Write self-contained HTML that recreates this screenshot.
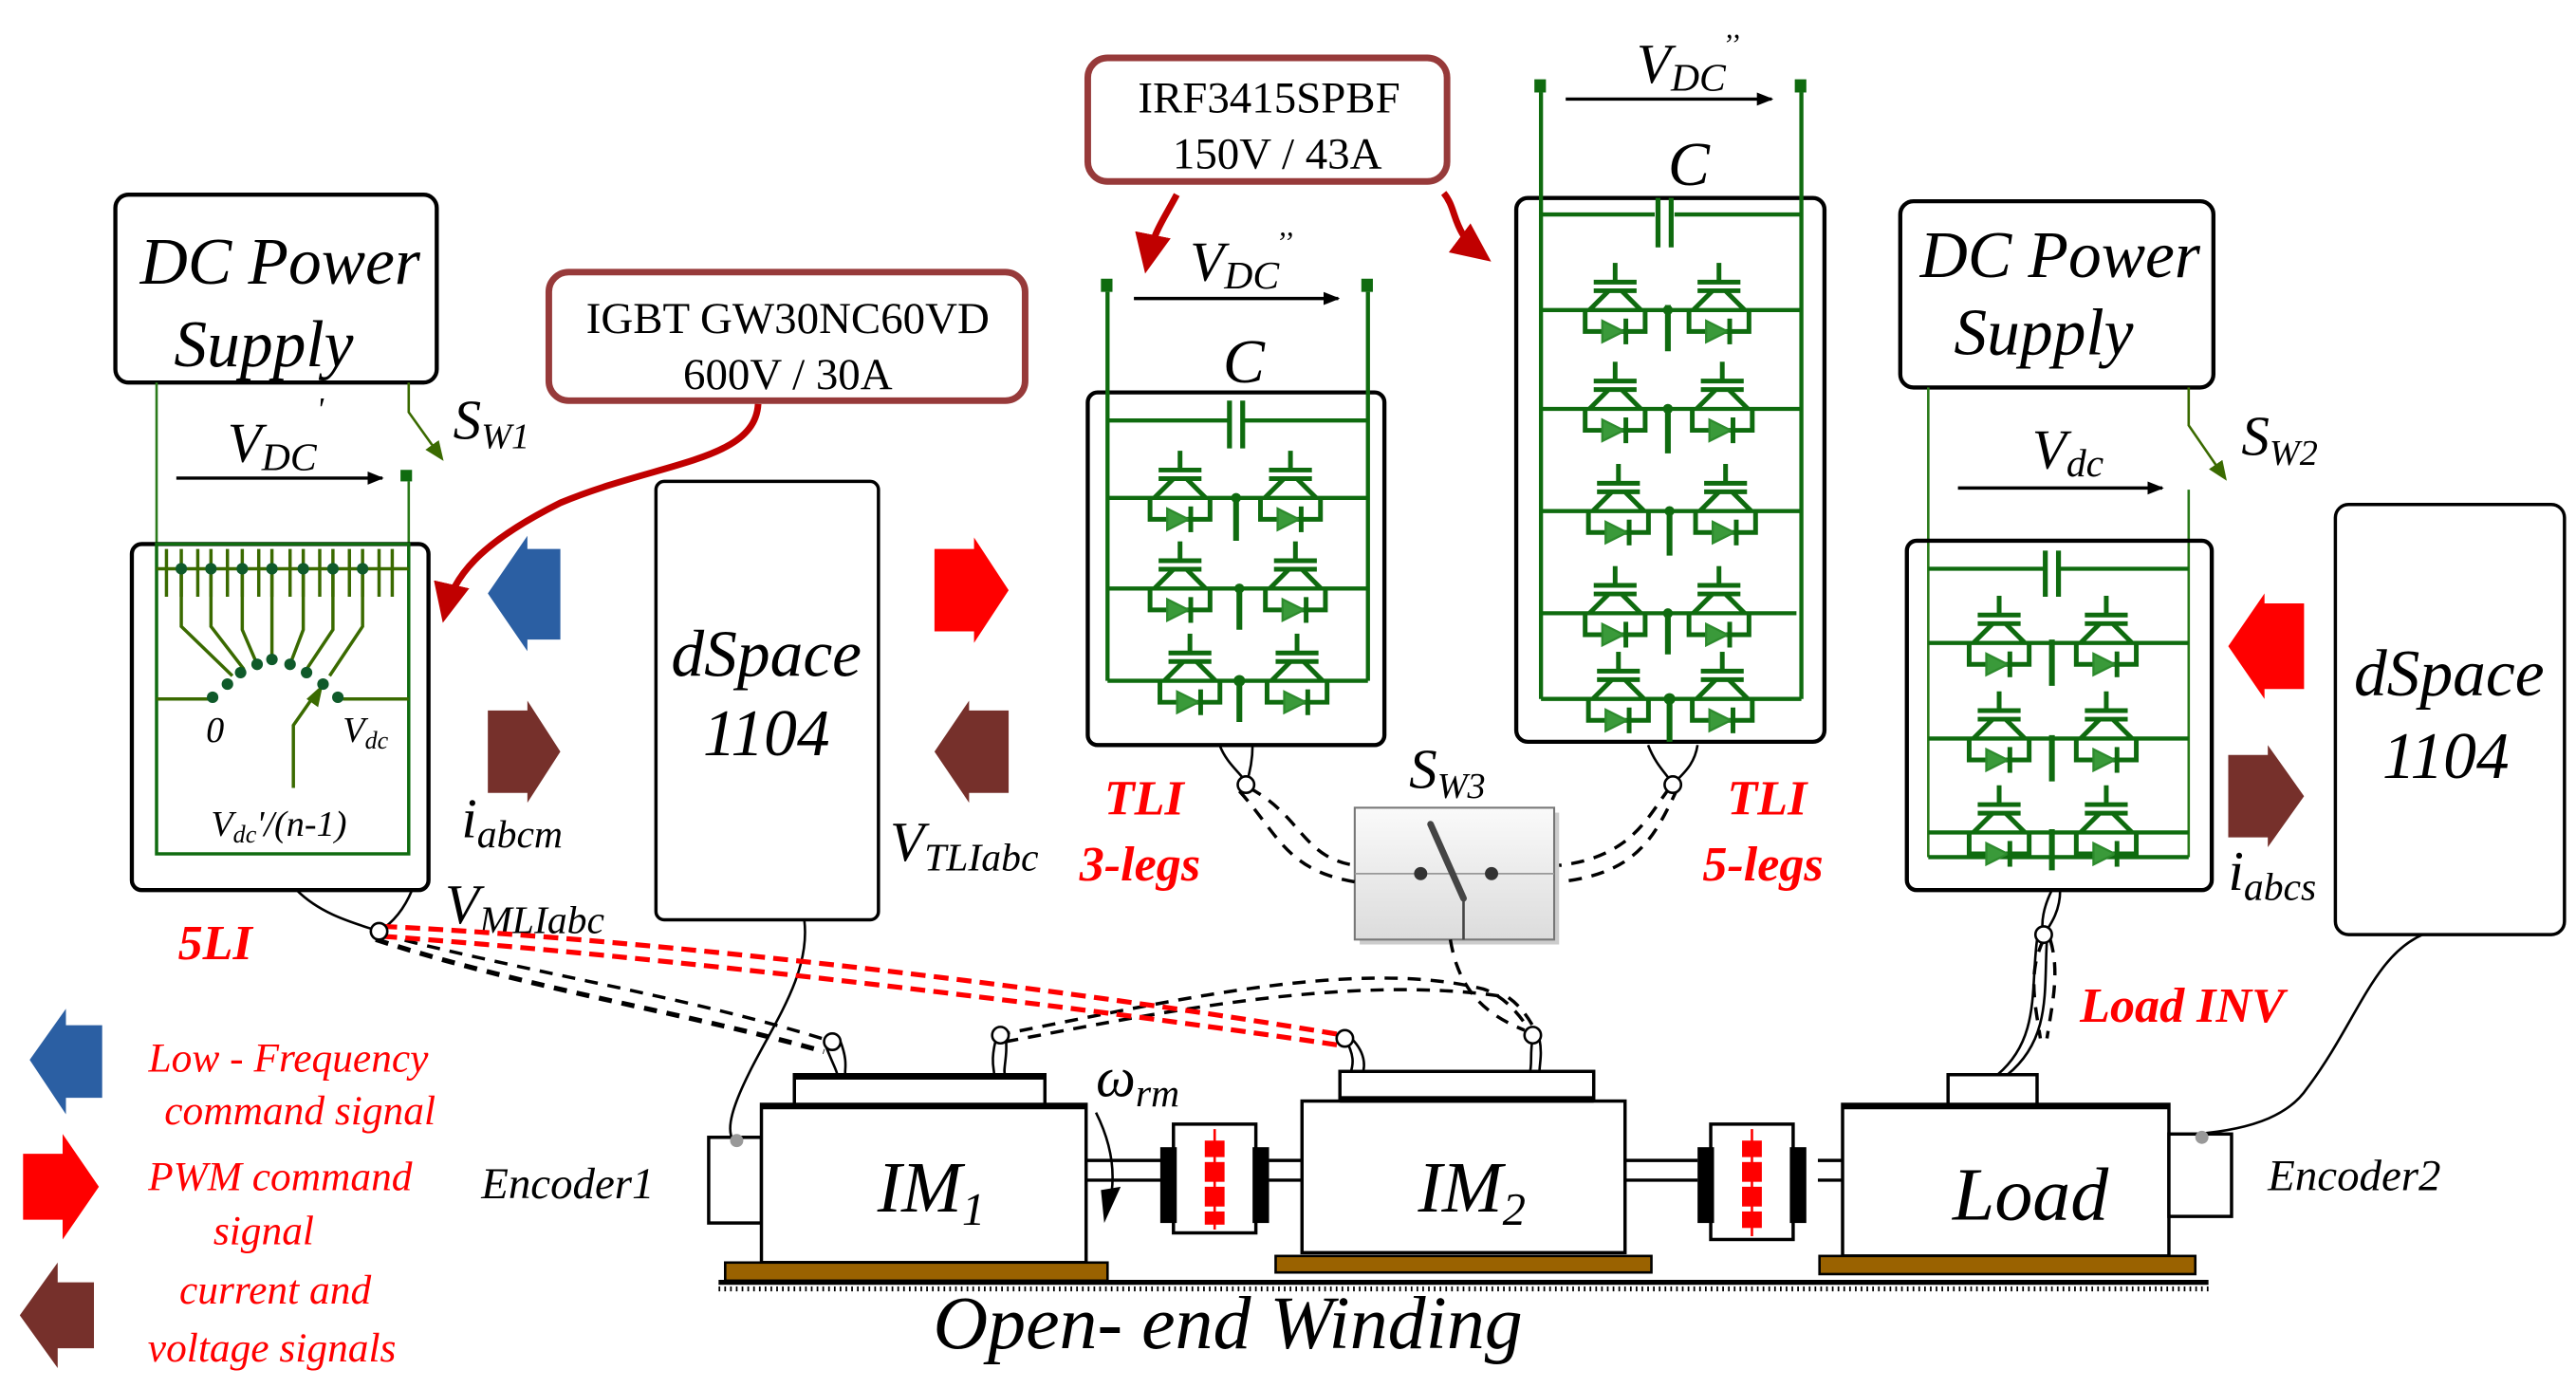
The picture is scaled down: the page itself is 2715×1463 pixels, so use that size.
<!DOCTYPE html>
<html><head><meta charset="utf-8">
<style>
html,body{margin:0;padding:0;background:#fff;}
svg{display:block;}
text{font-family:"Liberation Serif",serif;}
.it{font-style:italic;}
.red{fill:#ff0000;font-weight:bold;font-style:italic;}
.leg{fill:#ff0000;font-style:italic;font-size:25px;}
</style></head>
<body>
<svg width="2715" height="1463" viewBox="0 0 1563 842" xmlns="http://www.w3.org/2000/svg">
<defs>
<g id="cell" stroke="#0f6b0f" stroke-width="2.2" fill="none" transform="scale(1.3)">
  <line x1="0" y1="-22" x2="0" y2="-13"/>
  <line x1="-10" y1="-13" x2="10" y2="-13"/>
  <line x1="-10" y1="-9" x2="10" y2="-9"/>
  <line x1="-3" y1="-9" x2="-12" y2="0"/>
  <line x1="3" y1="-9" x2="12" y2="0"/>
  <polyline points="-14,0 -14,10 14,10 14,0"/>
  <polygon points="-6,5 -6,15 4,10" fill="#3a9a3a" stroke="#2c8a2c" stroke-width="1"/>
  <line x1="5" y1="4" x2="5" y2="16"/>
</g>
<marker id="ah" markerWidth="10" markerHeight="8" refX="9" refY="4" orient="auto" markerUnits="userSpaceOnUse"><polygon points="0,0 10,4 0,8" fill="#000"/></marker>
<marker id="ahg" markerWidth="12" markerHeight="10" refX="10" refY="5" orient="auto" markerUnits="userSpaceOnUse"><polygon points="0,0 12,5 0,10" fill="#3a6a00"/></marker>
<marker id="ahr" markerWidth="24" markerHeight="22" refX="18" refY="11" orient="auto" markerUnits="userSpaceOnUse"><polygon points="0,0 24,11 0,22" fill="#c00000"/></marker>
</defs>

<!-- ===== Left DC power supply ===== -->
<rect x="70" y="118" width="195" height="114" rx="8" fill="#fff" stroke="#000" stroke-width="2.5"/>
<text x="170" y="172" font-size="40" class="it" text-anchor="middle">DC Power</text>
<text x="160" y="222" font-size="40" class="it" text-anchor="middle">Supply</text>
<line x1="95" y1="232" x2="95" y2="518" stroke="#2a7a1a" stroke-width="1.5"/>
<polyline points="248,232 248,250 268,278" fill="none" stroke="#3a6a00" stroke-width="1.5" marker-end="url(#ahg)"/>
<rect x="243" y="285" width="7" height="7" fill="#0f6b0f"/>
<line x1="248" y1="292" x2="248" y2="518" stroke="#2a7a1a" stroke-width="1.5"/>
<line x1="107" y1="290" x2="232" y2="290" stroke="#000" stroke-width="2" marker-end="url(#ah)"/>
<text x="138" y="280" font-size="34" class="it">V<tspan font-size="24" dy="5">DC</tspan><tspan font-size="20" dy="-30">'</tspan></text>
<text x="275" y="266" font-size="34" class="it">S<tspan font-size="22" dy="6">W1</tspan></text>

<!-- 5LI box -->
<rect x="80" y="330" width="180" height="210" rx="6" fill="none" stroke="#000" stroke-width="2.5"/>
<rect x="95" y="330" width="153" height="188" fill="none" stroke="#0f6b0f" stroke-width="2"/>
<line x1="95" y1="345" x2="248" y2="345" stroke="#3a6a00" stroke-width="2"/>
<g stroke="#3a6a00" stroke-width="2">
<line x1="101" y1="333" x2="101" y2="362"/><line x1="110" y1="333" x2="110" y2="362"/>
<line x1="120" y1="333" x2="120" y2="362"/><line x1="128" y1="333" x2="128" y2="362"/>
<line x1="138" y1="333" x2="138" y2="362"/><line x1="147" y1="333" x2="147" y2="362"/>
<line x1="157" y1="333" x2="157" y2="362"/><line x1="165" y1="333" x2="165" y2="362"/>
<line x1="176" y1="333" x2="176" y2="362"/><line x1="184" y1="333" x2="184" y2="362"/>
<line x1="194" y1="333" x2="194" y2="362"/><line x1="202" y1="333" x2="202" y2="362"/>
<line x1="212" y1="333" x2="212" y2="362"/><line x1="220" y1="333" x2="220" y2="362"/>
<line x1="230" y1="333" x2="230" y2="362"/><line x1="238" y1="333" x2="238" y2="362"/>
</g>
<g stroke="#3a6a00" stroke-width="2" fill="none">
<polyline points="110,345 110,380 141,410"/>
<polyline points="128,345 128,380 148,406"/>
<polyline points="147,345 147,382 156,403"/>
<polyline points="165,345 165,402"/>
<polyline points="184,345 184,382 176,403"/>
<polyline points="202,345 202,382 186,406"/>
<polyline points="220,345 220,380 200,410"/>
<line x1="95" y1="424" x2="128" y2="424"/><line x1="208" y1="424" x2="248" y2="424"/>
<polyline points="178,478 178,440 192,420"/>
</g>
<polygon points="196,415 186,424 193,429" fill="#3a6a00"/>
<g fill="#0f5a2a">
<circle cx="129" cy="423" r="3.5"/><circle cx="138" cy="415" r="3.5"/><circle cx="146" cy="408" r="3.5"/>
<circle cx="156" cy="403" r="3.5"/><circle cx="165" cy="400" r="3.5"/><circle cx="176" cy="403" r="3.5"/>
<circle cx="186" cy="408" r="3.5"/><circle cx="196" cy="415" r="3.5"/><circle cx="205" cy="423" r="3.5"/>
<circle cx="110" cy="345" r="3.5"/><circle cx="128" cy="345" r="3.5"/><circle cx="147" cy="345" r="3.5"/>
<circle cx="165" cy="345" r="3.5"/><circle cx="184" cy="345" r="3.5"/><circle cx="202" cy="345" r="3.5"/><circle cx="220" cy="345" r="3.5"/>
</g>
<text x="125" y="450" font-size="22" class="it">0</text>
<text x="208" y="450" font-size="22" class="it">V<tspan font-size="15" dy="4">dc</tspan></text>
<text x="128" y="507" font-size="22" class="it">V<tspan font-size="15" dy="4">dc</tspan><tspan dy="-4">'/(n-1)</tspan></text>

<!-- IGBT label box -->
<rect x="333" y="165" width="289" height="78" rx="12" fill="#fff" stroke="#973a3a" stroke-width="4"/>
<text x="478" y="202" font-size="27" text-anchor="middle">IGBT GW30NC60VD</text>
<text x="478" y="236" font-size="27" text-anchor="middle">600V / 30A</text>
<path d="M460,245 C458,280 400,280 340,305 C290,330 275,350 270,372" fill="none" stroke="#c00000" stroke-width="4" marker-end="url(#ahr)"/>

<polygon points="340,333 340,388 320,388 320,395 296,360 320,325 320,333" fill="#2b5fa3"/>
<polygon points="296,431 320,431 320,425 340,456 320,487 320,481 296,481" fill="#76302b"/>
<text x="280" y="508" font-size="34" class="it">i<tspan font-size="24" dy="6">abcm</tspan></text>

<!-- Left dSpace -->
<rect x="398" y="292" width="135" height="266" rx="5" fill="#fff" stroke="#000" stroke-width="2"/>
<text x="465" y="410" font-size="40" class="it" text-anchor="middle">dSpace</text>
<text x="465" y="458" font-size="40" class="it" text-anchor="middle">1104</text>
<text x="270" y="560" font-size="34" class="it">V<tspan font-size="24" dy="6">MLIabc</tspan></text>
<text x="108" y="582" font-size="30" class="red">5LI</text>

<polygon points="567,333 591,333 591,326 612,358 591,390 591,383 567,383" fill="#ff0000"/>
<polygon points="612,431 588,431 588,425 567,456 588,487 588,481 612,481" fill="#76302b"/>
<text x="540" y="522" font-size="34" class="it">V<tspan font-size="24" dy="6">TLIabc</tspan></text>

<!-- IRF box -->
<rect x="660" y="35" width="218" height="75" rx="12" fill="#fff" stroke="#973a3a" stroke-width="4"/>
<text x="770" y="68" font-size="27" text-anchor="middle">IRF3415SPBF</text>
<text x="775" y="102" font-size="27" text-anchor="middle">150V / 43A</text>
<path d="M714,118 C705,135 700,140 696,160" fill="none" stroke="#c00000" stroke-width="4" marker-end="url(#ahr)"/>
<path d="M876,117 C885,128 880,140 900,155" fill="none" stroke="#c00000" stroke-width="4" marker-end="url(#ahr)"/>

<!-- TLI 3-leg -->
<rect x="668" y="169" width="7" height="8" fill="#0f6b0f"/><rect x="826" y="169" width="7" height="8" fill="#0f6b0f"/>
<line x1="688" y1="181" x2="812" y2="181" stroke="#000" stroke-width="2" marker-end="url(#ah)"/>
<text x="722" y="170" font-size="34" class="it">V<tspan font-size="24" dy="5">DC</tspan><tspan font-size="18" dy="-32">,,</tspan></text>
<text x="742" y="232" font-size="38" class="it">C</text>
<rect x="660" y="238" width="180" height="214" rx="6" fill="none" stroke="#000" stroke-width="2.5"/>
<g stroke="#0f6b0f" stroke-width="2.5" fill="none">
<line x1="672" y1="177" x2="672" y2="413"/><line x1="830" y1="177" x2="830" y2="413"/>
<line x1="672" y1="255" x2="745" y2="255"/><line x1="755" y1="255" x2="830" y2="255"/>
<line x1="746" y1="243" x2="746" y2="272" stroke-width="3"/><line x1="754" y1="243" x2="754" y2="272" stroke-width="3"/>
<line x1="672" y1="302" x2="830" y2="302"/><line x1="672" y1="357" x2="830" y2="357"/><line x1="672" y1="413" x2="830" y2="413"/>
<line x1="750" y1="300" x2="750" y2="328" stroke-width="3.5"/>
<line x1="752" y1="355" x2="752" y2="382" stroke-width="3.5"/>
<line x1="752" y1="411" x2="752" y2="438" stroke-width="3.5"/>
</g>
<g fill="#0f6b0f"><circle cx="750" cy="302" r="3"/><circle cx="752" cy="357" r="3"/><circle cx="752" cy="413" r="3.5"/></g>
<use href="#cell" x="716" y="302"/><use href="#cell" x="783" y="302"/>
<use href="#cell" x="716" y="357"/><use href="#cell" x="786" y="357"/>
<use href="#cell" x="722" y="413"/><use href="#cell" x="787" y="413"/>
<text x="670" y="494" font-size="30" class="red">TLI</text>
<text x="655" y="534" font-size="30" class="red">3-legs</text>

<!-- TLI 5-leg -->
<rect x="931" y="48" width="7" height="8" fill="#0f6b0f"/><rect x="1089" y="48" width="7" height="8" fill="#0f6b0f"/>
<line x1="950" y1="60" x2="1075" y2="60" stroke="#000" stroke-width="2" marker-end="url(#ah)"/>
<text x="993" y="50" font-size="34" class="it">V<tspan font-size="24" dy="5">DC</tspan><tspan font-size="18" dy="-32">,,</tspan></text>
<text x="1012" y="112" font-size="38" class="it">C</text>
<rect x="920" y="120" width="187" height="330" rx="7" fill="none" stroke="#000" stroke-width="2.5"/>
<g stroke="#0f6b0f" stroke-width="2.5" fill="none">
<line x1="935" y1="56" x2="935" y2="424"/><line x1="1093" y1="56" x2="1093" y2="424"/>
<line x1="935" y1="130" x2="1004" y2="130"/><line x1="1016" y1="130" x2="1093" y2="130"/>
<line x1="1006" y1="120" x2="1006" y2="150" stroke-width="3"/><line x1="1014" y1="120" x2="1014" y2="150" stroke-width="3"/>
<line x1="935" y1="188" x2="1093" y2="188"/><line x1="935" y1="248" x2="1093" y2="248"/>
<line x1="935" y1="310" x2="1093" y2="310"/><line x1="935" y1="372" x2="1090" y2="372"/>
<line x1="935" y1="424" x2="1093" y2="424"/>
<line x1="1012" y1="185" x2="1012" y2="213" stroke-width="3.5"/>
<line x1="1012" y1="246" x2="1012" y2="275" stroke-width="3.5"/>
<line x1="1013" y1="308" x2="1013" y2="337" stroke-width="3.5"/>
<line x1="1012" y1="370" x2="1012" y2="397" stroke-width="3.5"/>
<line x1="1013" y1="422" x2="1013" y2="450" stroke-width="3.5"/>
</g>
<g fill="#0f6b0f"><circle cx="1012" cy="188" r="3"/><circle cx="1012" cy="248" r="3"/><circle cx="1013" cy="310" r="3"/><circle cx="1012" cy="372" r="3"/><circle cx="1013" cy="424" r="3.5"/></g>
<use href="#cell" x="980" y="188"/><use href="#cell" x="1043" y="188"/>
<use href="#cell" x="980" y="248"/><use href="#cell" x="1045" y="248"/>
<use href="#cell" x="982" y="310"/><use href="#cell" x="1047" y="310"/>
<use href="#cell" x="980" y="372"/><use href="#cell" x="1043" y="372"/>
<use href="#cell" x="982" y="424"/><use href="#cell" x="1045" y="424"/>
<text x="1048" y="494" font-size="30" class="red">TLI</text>
<text x="1033" y="534" font-size="30" class="red">5-legs</text>

<!-- Sw3 -->
<defs><linearGradient id="gs" x1="0" y1="0" x2="0" y2="1"><stop offset="0" stop-color="#fafafa"/><stop offset="1" stop-color="#dcdcdc"/></linearGradient></defs>
<rect x="825" y="493" width="121" height="80" fill="#ccc"/>
<rect x="822" y="490" width="121" height="80" fill="url(#gs)" stroke="#777" stroke-width="1.2"/>
<line x1="822" y1="530" x2="943" y2="530" stroke="#999" stroke-width="1"/>
<circle cx="862" cy="530" r="4" fill="#333"/><circle cx="905" cy="530" r="4" fill="#333"/>
<line x1="868" y1="500" x2="888" y2="545" stroke="#444" stroke-width="4" stroke-linecap="round"/>
<line x1="888" y1="545" x2="888" y2="570" stroke="#444" stroke-width="1.5"/>
<text x="855" y="478" font-size="34" class="it">S<tspan font-size="22" dy="6">W3</tspan></text>

<!-- Right DC power supply -->
<rect x="1153" y="122" width="190" height="113" rx="8" fill="#fff" stroke="#000" stroke-width="2.5"/>
<text x="1250" y="168" font-size="40" class="it" text-anchor="middle">DC Power</text>
<text x="1240" y="215" font-size="40" class="it" text-anchor="middle">Supply</text>
<line x1="1170" y1="235" x2="1170" y2="520" stroke="#2a7a1a" stroke-width="1.5"/>
<polyline points="1328,235 1328,258 1350,290" fill="none" stroke="#3a6a00" stroke-width="1.5" marker-end="url(#ahg)"/>
<line x1="1328" y1="297" x2="1328" y2="520" stroke="#2a7a1a" stroke-width="1.5"/>
<line x1="1188" y1="296" x2="1312" y2="296" stroke="#000" stroke-width="2" marker-end="url(#ah)"/>
<text x="1233" y="284" font-size="34" class="it">V<tspan font-size="24" dy="5">dc</tspan></text>
<text x="1360" y="276" font-size="34" class="it">S<tspan font-size="22" dy="6">W2</tspan></text>
<rect x="1157" y="328" width="185" height="212" rx="6" fill="none" stroke="#000" stroke-width="2.5"/>
<g stroke="#0f6b0f" stroke-width="2.5" fill="none">
<line x1="1170" y1="345" x2="1240" y2="345"/><line x1="1250" y1="345" x2="1328" y2="345"/>
<line x1="1241" y1="334" x2="1241" y2="362" stroke-width="3"/><line x1="1249" y1="334" x2="1249" y2="362" stroke-width="3"/>
<line x1="1170" y1="520" x2="1328" y2="520"/>
<line x1="1170" y1="390" x2="1328" y2="390"/><line x1="1170" y1="448" x2="1328" y2="448"/><line x1="1170" y1="505" x2="1328" y2="505"/>
<line x1="1245" y1="388" x2="1245" y2="416" stroke-width="3.5"/>
<line x1="1245" y1="446" x2="1245" y2="474" stroke-width="3.5"/>
<line x1="1245" y1="503" x2="1245" y2="528" stroke-width="3.5"/>
</g>
<use href="#cell" x="1213" y="390"/><use href="#cell" x="1278" y="390"/>
<use href="#cell" x="1213" y="448"/><use href="#cell" x="1278" y="448"/>
<use href="#cell" x="1213" y="505"/><use href="#cell" x="1278" y="505"/>

<polygon points="1398,366 1374,366 1374,360 1352,392 1374,424 1374,418 1398,418" fill="#ff0000"/>
<polygon points="1352,458 1376,458 1376,452 1398,483 1376,514 1376,508 1352,508" fill="#76302b"/>
<text x="1352" y="540" font-size="34" class="it">i<tspan font-size="24" dy="6">abcs</tspan></text>
<rect x="1417" y="306" width="139" height="261" rx="8" fill="#fff" stroke="#000" stroke-width="2"/>
<text x="1486" y="422" font-size="40" class="it" text-anchor="middle">dSpace</text>
<text x="1484" y="472" font-size="40" class="it" text-anchor="middle">1104</text>
<text x="1262" y="620" font-size="30" class="red">Load INV</text>

<!-- Legend -->
<polygon points="62,622 40,622 40,612 18,643 40,676 40,666 62,666" fill="#2b5fa3"/>
<text x="175" y="650" class="leg" text-anchor="middle">Low - Frequency</text>
<text x="182" y="682" class="leg" text-anchor="middle">command signal</text>
<polygon points="14,700 38,700 38,688 60,720 38,752 38,740 14,740" fill="#ff0000"/>
<text x="170" y="722" class="leg" text-anchor="middle">PWM command</text>
<text x="160" y="755" class="leg" text-anchor="middle">signal</text>
<polygon points="57,778 35,778 35,766 12,798 35,830 35,818 57,818" fill="#76302b"/>
<text x="167" y="791" class="leg" text-anchor="middle">current and</text>
<text x="165" y="826" class="leg" text-anchor="middle">voltage signals</text>

<!-- cables -->
<g fill="none" stroke="#000" stroke-width="1.5">
<path d="M180,540 C195,555 215,560 230,565 M250,540 C245,552 238,560 230,565"/>
<path d="M740,452 C745,465 755,470 756,476 M760,452 C760,462 758,470 756,476"/>
<path d="M1000,452 C1005,465 1012,470 1015,476 M1030,452 C1028,465 1020,470 1015,476"/>
<path d="M1245,540 C1240,550 1238,560 1240,567 M1250,540 C1250,552 1245,560 1240,567"/>
<path d="M488,558 C492,590 470,620 455,650 C445,670 440,685 445,692"/>
<path d="M1470,567 C1440,580 1430,620 1400,660 C1390,675 1370,685 1332,688"/>
<path d="M500,632 C505,645 508,650 508,652 M510,632 C515,645 512,650 513,652"/>
<path d="M605,628 C600,645 604,650 603,652 M610,628 C612,640 608,650 610,652"/>
<path d="M816,630 C825,645 818,650 820,652 M820,630 C830,640 828,650 826,652"/>
<path d="M930,630 C928,640 930,645 928,652 M934,630 C936,640 934,645 934,652"/>
<path d="M1236,570 C1232,600 1238,630 1212,652 M1242,570 C1240,600 1245,630 1218,652"/>
</g>
<g fill="none" stroke="#000" stroke-width="2" stroke-dasharray="8,6">
<path d="M232,567 C320,590 420,605 505,632"/>
<path d="M228,570 C320,600 420,615 500,638" stroke-width="3"/>
<path d="M758,478 C790,495 790,520 822,525"/>
<path d="M752,480 C775,505 780,528 822,535"/>
<path d="M1013,478 C1000,495 990,520 946,525"/>
<path d="M1018,478 C1005,505 995,530 946,535"/>
<path d="M605,628 C700,610 820,580 900,600 C915,605 925,620 930,628"/>
<path d="M610,632 C700,615 820,590 915,605 C925,612 930,622 934,630"/>
<path d="M880,570 C885,600 900,615 925,625"/>
<path d="M1240,570 C1230,590 1235,610 1238,630"/>
<path d="M1244,570 C1250,590 1245,610 1242,630"/>
</g>
<g fill="none" stroke="#ff0000" stroke-width="3" stroke-dasharray="9,5">
<path d="M232,562 C400,570 650,600 815,628"/>
<path d="M232,568 C400,580 650,610 812,634"/>
</g>
<g fill="#fff" stroke="#000" stroke-width="1.5">
<circle cx="230" cy="565" r="5"/><circle cx="505" cy="632" r="5"/><circle cx="607" cy="628" r="5"/>
<circle cx="816" cy="630" r="5"/><circle cx="930" cy="628" r="5"/><circle cx="1240" cy="567" r="5"/>
<circle cx="1015" cy="476" r="5"/><circle cx="756" cy="476" r="5"/>
</g>

<!-- Machines -->
<g stroke="#000" stroke-width="2" fill="#fff">
<rect x="430" y="690" width="32" height="52"/>
<rect x="482" y="652" width="152" height="19"/>
<rect x="462" y="670" width="197" height="96"/>
<line x1="659" y1="704" x2="705" y2="704"/><line x1="659" y1="716" x2="705" y2="716"/>
<line x1="770" y1="704" x2="790" y2="704"/><line x1="770" y1="716" x2="790" y2="716"/>
<rect x="813" y="650" width="154" height="19"/>
<rect x="790" y="668" width="196" height="92"/>
<line x1="986" y1="704" x2="1030" y2="704"/><line x1="986" y1="716" x2="1030" y2="716"/>
<line x1="1103" y1="704" x2="1118" y2="704"/><line x1="1103" y1="716" x2="1118" y2="716"/>
<rect x="1182" y="652" width="54" height="20"/>
<rect x="1118" y="670" width="198" height="92"/>
<rect x="1316" y="688" width="38" height="50"/>
<rect x="712" y="682" width="50" height="66"/>
<rect x="1038" y="682" width="50" height="70"/>
</g>
<g fill="#000">
<rect x="704" y="696" width="10" height="46"/><rect x="760" y="696" width="10" height="46"/>
<rect x="1030" y="696" width="10" height="46"/><rect x="1086" y="696" width="10" height="46"/>
<rect x="482" y="652" width="152" height="3"/><rect x="462" y="670" width="197" height="3"/>
<rect x="813" y="665" width="154" height="4"/><rect x="1118" y="670" width="198" height="3"/>
</g>
<g fill="#ff0000">
<line x1="737" y1="685" x2="737" y2="746" stroke="#ff0000" stroke-width="1.5"/>
<rect x="731" y="692" width="12" height="10"/><rect x="731" y="705" width="12" height="12"/><rect x="731" y="720" width="12" height="12"/><rect x="731" y="735" width="12" height="8"/>
<line x1="1063" y1="685" x2="1063" y2="750" stroke="#ff0000" stroke-width="1.5"/>
<rect x="1057" y="692" width="12" height="10"/><rect x="1057" y="705" width="12" height="12"/><rect x="1057" y="720" width="12" height="12"/><rect x="1057" y="735" width="12" height="10"/>
</g>
<g fill="#999"><circle cx="447" cy="692" r="4"/><circle cx="1336" cy="690" r="4"/></g>
<g fill="#9a6200" stroke="#000" stroke-width="1.5">
<rect x="440" y="766" width="232" height="11"/>
<rect x="774" y="762" width="228" height="10"/>
<rect x="1104" y="762" width="228" height="11"/>
</g>
<line x1="436" y1="778" x2="1340" y2="778" stroke="#000" stroke-width="3"/>
<line x1="436" y1="782" x2="1340" y2="782" stroke="#000" stroke-width="3" stroke-dasharray="1,2.5"/>
<text x="565" y="735" font-size="44" class="it" text-anchor="middle">IM<tspan font-size="28" dy="8">1</tspan></text>
<text x="893" y="735" font-size="44" class="it" text-anchor="middle">IM<tspan font-size="28" dy="8">2</tspan></text>
<text x="1232" y="740" font-size="46" class="it" text-anchor="middle">Load</text>
<text x="292" y="727" font-size="27" class="it">Encoder1</text>
<text x="1376" y="722" font-size="27" class="it">Encoder2</text>
<text x="665" y="665" font-size="34" class="it">ω<tspan font-size="24" dy="6">rm</tspan></text>
<path d="M665,675 C675,695 678,715 672,735" fill="none" stroke="#000" stroke-width="1.5"/>
<polygon points="668,722 680,720 670,742" fill="#000"/>
<text x="745" y="818" font-size="46" class="it" text-anchor="middle">Open- end Winding</text>
</svg>
</body></html>
